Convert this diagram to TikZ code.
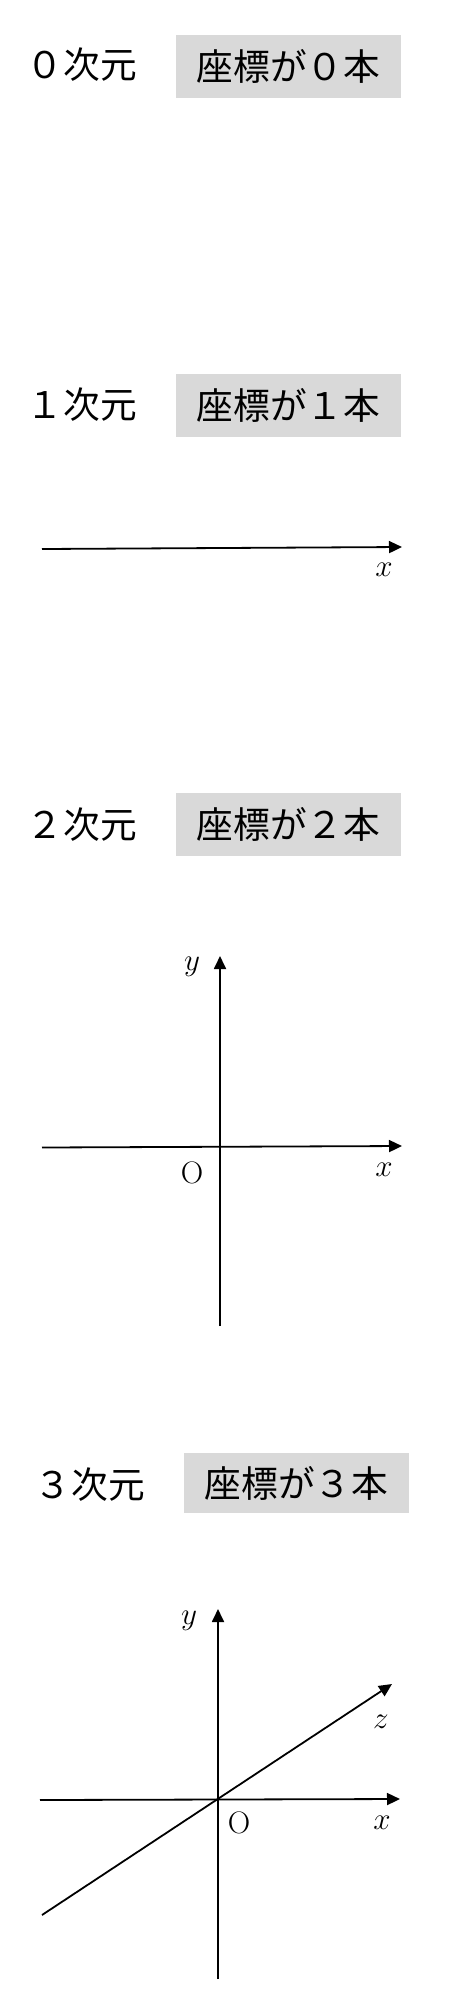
\documentclass[tikz,border=0pt]{standalone}
\usepackage{fontspec}
\newfontfamily\jpfont{Noto Sans CJK JP}
\usetikzlibrary{arrows.meta}
\definecolor{boxgray}{HTML}{D9D9D9}
\tikzset{
  dimlabel/.style={font=\jpfont\fontsize{36.7}{40}\selectfont, inner sep=0pt},
  coordbox/.style={fill=boxgray, font=\jpfont\fontsize{36.7}{40}\selectfont, minimum width=225pt, inner sep=0pt},
  axisline/.style={line width=1.8pt, -{Triangle[length=13pt,width=12pt]}},
  axlabel/.style={font=\fontsize{24.88}{28}\selectfont, inner sep=0pt, scale=1.25, transform shape},
}
\begin{document}
\begin{tikzpicture}[x=1pt,y=-1pt]
\useasboundingbox (0,0) rectangle (451,2008);
% 0 dimension
\node[dimlabel] (d0) at (82,65) {０次元};
\node[coordbox, minimum height=63pt] (b0) at (288.5,66.5) {座標が０本};
% 1 dimension
\node[dimlabel] (d1) at (82,405) {１次元};
\node[coordbox, minimum height=63pt] (b1) at (288.5,405.5) {座標が１本};
\coordinate (x1s) at (42,549);
\coordinate (x1e) at (402,547);
\draw[axisline] (x1s) -- (x1e);
\node[axlabel] (lx1) at (384,570) {$x$};
% 2 dimension
\node[dimlabel] (d2) at (82,825) {２次元};
\node[coordbox, minimum height=63pt] (b2) at (288.5,824.5) {座標が２本};
\coordinate (x2s) at (42,1147.5);
\coordinate (x2e) at (402,1146);
\coordinate (y2s) at (220,1326);
\coordinate (y2e) at (220,956);
\draw[axisline] (x2s) -- (x2e);
\draw[axisline] (y2s) -- (y2e);
\node[axlabel] (ly2) at (192,967) {$y$};
\node[axlabel] (lo2) at (192,1173) {O};
\node[axlabel] (lx2) at (384,1170) {$x$};
% 3 dimension
\node[dimlabel] (d3) at (90,1485) {３次元};
\node[coordbox, minimum height=60pt] (b3) at (296.5,1483) {座標が３本};
\coordinate (x3s) at (40,1800);
\coordinate (x3e) at (400,1799);
\coordinate (y3s) at (218,1979);
\coordinate (y3e) at (218,1609);
\coordinate (z3s) at (42,1915);
\coordinate (z3e) at (392,1684);
\draw[axisline] (x3s) -- (x3e);
\draw[axisline] (y3s) -- (y3e);
\draw[axisline] (z3s) -- (z3e);
\node[axlabel] (ly3) at (189,1621) {$y$};
\node[axlabel] (lz3) at (381,1722) {$z$};
\node[axlabel] (lo3) at (239,1823) {O};
\node[axlabel] (lx3) at (382,1823) {$x$};
\end{tikzpicture}
\end{document}
